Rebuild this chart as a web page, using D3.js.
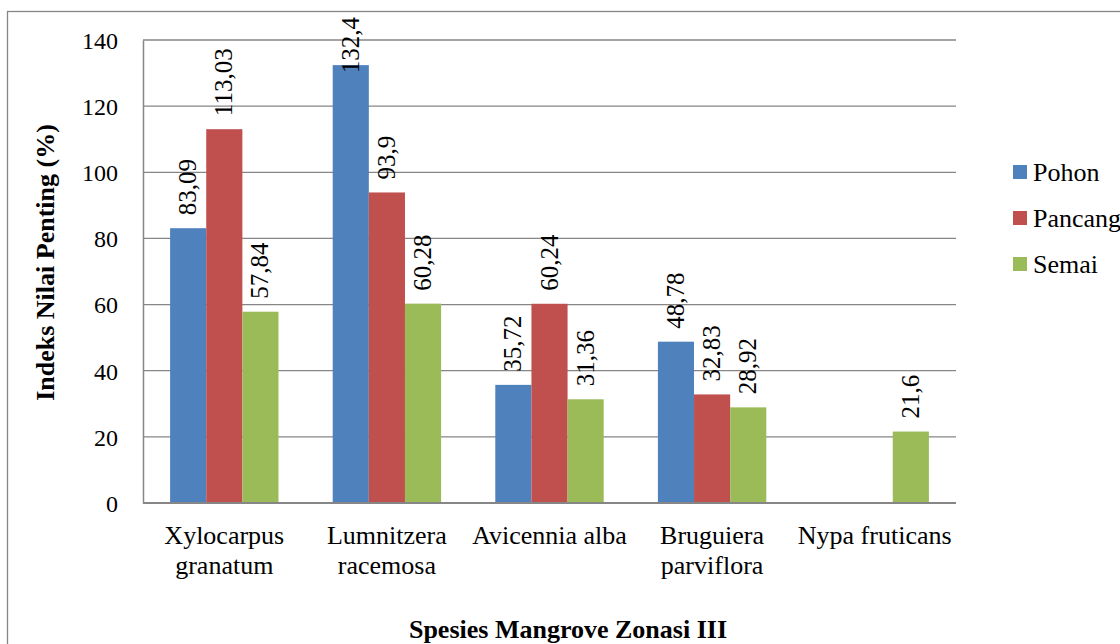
<!DOCTYPE html>
<html lang="en">
<head>
    <meta charset="UTF-8">
    <title>Indeks Nilai Penting</title>
    <script src="https://d3js.org/d3.v7.min.js"></script>
    <style>
        body { margin: 0; background: #fff; }
        svg text { font-family: "Liberation Serif", "Times New Roman", serif; fill: #000; }
    </style>
</head>
<body>
    <div id="chart"></div>
    <script>
        const species = [
            ["Xylocarpus", "granatum"],
            ["Lumnitzera", "racemosa"],
            ["Avicennia alba"],
            ["Bruguiera", "parviflora"],
            ["Nypa fruticans"]
        ];
        const seriesNames = ["Pohon", "Pancang", "Semai"];
        const pohon = [83.09, 132.4, 35.72, 48.78, null];
        const pancang = [113.03, 93.9, 60.24, 32.83, null];
        const semai = [57.84, 60.28, 31.36, 28.92, 21.6];
        const yTicks = [0, 20, 40, 60, 80, 100, 120, 140];
        const colors = ["#4F81BD", "#C0504D", "#9BBB59"];

        const w = 1120;
        const h = 644;
        const plotLeft = 143;
        const plotRight = 956;
        const plotTop = 40;
        const plotBottom = 503;
        const serif = '"Liberation Serif", "Times New Roman", serif';

        const allSeries = [pohon, pancang, semai];

        const svg = d3.select("#chart")
            .append("svg")
            .attr("width", w)
            .attr("height", h)
            .attr("font-family", serif);

        // outer chart frame
        svg.append("rect")
            .attr("x", 7.5)
            .attr("y", 11.5)
            .attr("width", w + 20)
            .attr("height", h + 20)
            .attr("fill", "none")
            .attr("stroke", "#868686")
            .attr("stroke-width", 1.3);

        const xScale = d3.scaleBand()
            .domain(d3.range(species.length))
            .range([plotLeft, plotRight])
            .paddingInner(1.5 / 4.5)
            .paddingOuter(0.75 / 4.5);
        const inner = d3.scaleBand()
            .domain(d3.range(seriesNames.length))
            .range([0, xScale.bandwidth()]);
        const yScale = d3.scaleLinear()
            .domain([0, 140])
            .range([plotBottom, plotTop]);

        // gridlines
        svg.append("g")
            .selectAll("line")
            .data(yTicks.filter(d => d > 0))
            .enter()
            .append("line")
            .attr("x1", plotLeft)
            .attr("x2", plotRight)
            .attr("y1", d => yScale(d))
            .attr("y2", d => yScale(d))
            .attr("stroke", "#868686")
            .attr("stroke-width", 1.3);

        // bars
        allSeries.forEach((vals, s) => {
            svg.append("g")
                .selectAll("rect")
                .data(vals.map((v, i) => ({ v: v, i: i })).filter(d => d.v !== null))
                .enter()
                .append("rect")
                .attr("x", d => xScale(d.i) + inner(s))
                .attr("y", d => yScale(d.v))
                .attr("width", inner.bandwidth())
                .attr("height", d => plotBottom - yScale(d.v))
                .attr("fill", colors[s]);
        });

        // axes
        const yAxis = d3.axisLeft(yScale).tickValues(yTicks).tickSize(0).tickPadding(25);
        const gy = svg.append("g")
            .attr("transform", "translate(" + plotLeft + ",0)")
            .call(yAxis)
            .attr("font-family", serif);
        gy.select(".domain").attr("stroke", "#868686").attr("stroke-width", 1.5);
        gy.selectAll("text")
            .style("font-size", "24px")
            .attr("dy", "0.35em");

        svg.append("line")
            .attr("x1", plotLeft)
            .attr("x2", plotRight)
            .attr("y1", plotBottom)
            .attr("y2", plotBottom)
            .attr("stroke", "#868686")
            .attr("stroke-width", 2);

        // category labels
        species.forEach((lines, i) => {
            const t = svg.append("text")
                .attr("text-anchor", "middle")
                .style("font-size", "26px");
            lines.forEach((ln, k) => {
                t.append("tspan")
                    .attr("x", xScale(i) + xScale.bandwidth() / 2)
                    .attr("y", 544 + k * 30)
                    .text(ln);
            });
        });

        // data labels, rotated
        allSeries.forEach((vals, s) => {
            vals.forEach((v, i) => {
                if (v === null) return;
                const cx = xScale(i) + inner(s) + inner.bandwidth() / 2;
                const lab = svg.append("text")
                    .style("font-size", "25px")
                    .text(String(v).replace(".", ","));
                const len = lab.node().getComputedTextLength();
                let start = yScale(v) - 13;
                if (start - len < 17) start = 17 + len;
                lab.attr("transform", "translate(" + (cx + 8) + "," + start + ") rotate(-90)");
            });
        });

        // axis titles
        svg.append("text")
            .attr("transform", "translate(54," + ((plotTop + plotBottom) / 2 - 9) + ") rotate(-90)")
            .attr("text-anchor", "middle")
            .style("font-size", "26px")
            .style("font-weight", "bold")
            .text("Indeks Nilai Penting (%)");

        svg.append("text")
            .attr("x", 568)
            .attr("y", 638)
            .attr("text-anchor", "middle")
            .style("font-size", "26px")
            .style("font-weight", "bold")
            .text("Spesies Mangrove Zonasi III");

        // legend
        const legend = svg.append("g");
        seriesNames.forEach((name, s) => {
            legend.append("rect")
                .attr("x", 1013)
                .attr("y", 165 + s * 46)
                .attr("width", 14)
                .attr("height", 14)
                .attr("fill", colors[s]);
            legend.append("text")
                .attr("x", 1033)
                .attr("y", 181 + s * 46)
                .style("font-size", "26px")
                .text(name);
        });
    </script>
</body>
</html>
